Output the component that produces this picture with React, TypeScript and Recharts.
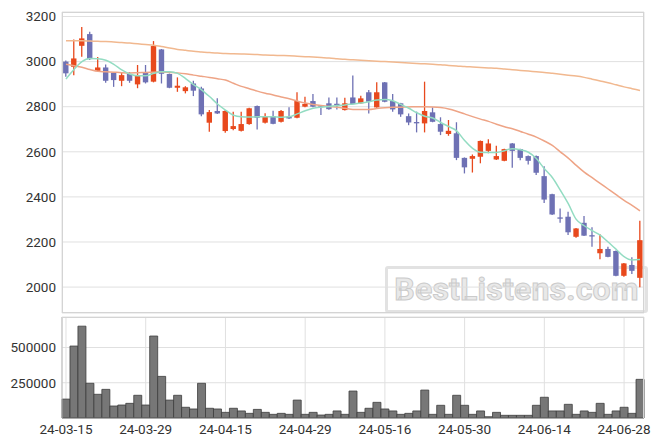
import { ComposedChart, Bar, Line, XAxis, YAxis, CartesianGrid } from 'recharts'

const dates = [
  '24-03-15', '24-03-18', '24-03-19', '24-03-20', '24-03-21', '24-03-22', '24-03-25', '24-03-26', '24-03-27', '24-03-28',
  '24-03-29', '24-04-01', '24-04-02', '24-04-03', '24-04-04', '24-04-05', '24-04-08', '24-04-09', '24-04-11', '24-04-12',
  '24-04-15', '24-04-16', '24-04-17', '24-04-18', '24-04-19', '24-04-22', '24-04-23', '24-04-24', '24-04-25', '24-04-26',
  '24-04-29', '24-04-30', '24-05-02', '24-05-03', '24-05-07', '24-05-08', '24-05-09', '24-05-10', '24-05-13', '24-05-14',
  '24-05-16', '24-05-17', '24-05-20', '24-05-21', '24-05-22', '24-05-23', '24-05-24', '24-05-27', '24-05-28', '24-05-29',
  '24-05-30', '24-05-31', '24-06-03', '24-06-04', '24-06-05', '24-06-07', '24-06-10', '24-06-11', '24-06-12', '24-06-13',
  '24-06-14', '24-06-17', '24-06-18', '24-06-19', '24-06-20', '24-06-21', '24-06-24', '24-06-25', '24-06-26', '24-06-27',
  '24-06-28', '24-07-01', '24-07-02',
]

const tickDates = ['24-03-15', '24-03-29', '24-04-15', '24-04-29', '24-05-16', '24-05-30', '24-06-14', '24-06-28']
const priceTicks = [2000, 2200, 2400, 2600, 2800, 3000, 3200]
const volumeTicks = [250000, 500000]

const opens = [
  3000, 2977, 3070, 3122, 2959, 2974, 2950, 2915, 2945, 2899,
  2952, 2911, 3054, 2945, 2884, 2869, 2903, 2881, 2729, 2781,
  2692, 2701, 2693, 2723, 2803, 2729, 2758, 2733, 2755, 2751,
  2800, 2825, 2806, 2815, 2813, 2785, 2841, 2815, 2864, 2797,
  2908, 2825, 2815, 2758, 2732, 2726, 2775, 2723, 2679, 2682,
  2573, 2569, 2578, 2604, 2566, 2560, 2637, 2612, 2581, 2581,
  2492, 2412, 2309, 2312, 2223, 2285, 2230, 2150, 2169, 2160,
  2050, 2098, 2041,
]
const highs = [
  3005, 3098, 3154, 3132, 3020, 2987, 2952, 2952, 2954, 2985,
  2985, 3091, 3056, 2947, 2930, 2891, 2915, 2888, 2785, 2837,
  2785, 2778, 2778, 2795, 2805, 2771, 2782, 2785, 2797, 2864,
  2844, 2856, 2808, 2841, 2841, 2840, 2938, 2849, 2874, 2908,
  2910, 2856, 2817, 2770, 2778, 2911, 2797, 2753, 2741, 2731,
  2575, 2588, 2650, 2656, 2627, 2614, 2639, 2614, 2583, 2583,
  2536, 2414, 2349, 2334, 2262, 2315, 2265, 2234, 2179, 2162,
  2107, 2132, 2294,
]
const lows = [
  2933, 2940, 3021, 3007, 2955, 2906, 2888, 2891, 2906, 2882,
  2903, 2908, 2903, 2882, 2866, 2859, 2847, 2758, 2689, 2768,
  2684, 2696, 2690, 2720, 2699, 2726, 2722, 2730, 2745, 2749,
  2798, 2798, 2763, 2787, 2788, 2783, 2810, 2813, 2770, 2795,
  2820, 2778, 2755, 2718, 2686, 2686, 2731, 2674, 2671, 2563,
  2504, 2508, 2549, 2593, 2564, 2558, 2529, 2563, 2544, 2497,
  2373, 2320, 2285, 2231, 2219, 2226, 2179, 2123, 2132, 2048,
  2046, 2058, 1999,
]
const closes = [
  2948, 3014, 3103, 3011, 2974, 2915, 2918, 2940, 2915, 2940,
  2908, 3069, 2946, 2884, 2893, 2886, 2871, 2766, 2776, 2770,
  2781, 2714, 2723, 2793, 2751, 2758, 2724, 2781, 2748, 2825,
  2812, 2800, 2803, 2789, 2810, 2815, 2812, 2837, 2822, 2864,
  2822, 2788, 2766, 2730, 2728, 2781, 2733, 2689, 2693, 2573,
  2531, 2581, 2648, 2637, 2581, 2612, 2604, 2573, 2560, 2507,
  2388, 2322, 2305, 2243, 2260, 2228, 2226, 2169, 2134, 2050,
  2105, 2072, 2208,
]
const volumes = [
  134000, 510000, 651000, 246000, 168000, 203000, 85000, 92000, 104000, 161000,
  92000, 581000, 295000, 127000, 161000, 76000, 64000, 246000, 69000, 64000,
  40000, 69000, 50000, 33000, 61000, 40000, 26000, 33000, 26000, 127000,
  26000, 40000, 21000, 26000, 50000, 26000, 191000, 40000, 69000, 111000,
  64000, 50000, 26000, 33000, 50000, 198000, 26000, 90000, 26000, 161000,
  90000, 26000, 50000, 9000, 40000, 19000, 19000, 19000, 19000, 90000,
  147000, 50000, 50000, 97000, 26000, 50000, 40000, 104000, 26000, 50000,
  76000, 33000, 274000,
]
const ma5 = [
  2923, 2965, 3000, 3014, 3013, 3006, 2988, 2963, 2945, 2937,
  2937, 2948, 2955, 2955, 2948, 2925, 2898, 2875, 2845, 2812,
  2785, 2762, 2755, 2754, 2755, 2755, 2755, 2753, 2755, 2768,
  2782, 2793, 2798, 2801, 2805, 2808, 2812, 2816, 2822, 2830,
  2832, 2826, 2810, 2793, 2773, 2758, 2750, 2730, 2712, 2693,
  2650, 2615, 2598, 2597, 2597, 2605, 2614, 2609, 2598, 2570,
  2525, 2486, 2430, 2370, 2300, 2272, 2250, 2230, 2200, 2168,
  2135, 2120, 2122,
]
const ma20 = [
  2988, 2982, 2975, 2965, 2957, 2955, 2953, 2951, 2950, 2951,
  2952, 2953, 2954, 2952, 2950, 2946, 2940, 2935, 2930, 2924,
  2918, 2904, 2890, 2880, 2869, 2860, 2852, 2843, 2835, 2825,
  2816, 2810, 2805, 2801, 2798, 2793, 2788, 2788, 2788, 2792,
  2795, 2797, 2798, 2799, 2800, 2800, 2799, 2796, 2790, 2780,
  2768, 2756, 2745, 2735, 2722, 2711, 2702, 2690, 2678, 2665,
  2648, 2628, 2600, 2572, 2540, 2510, 2485, 2460, 2435, 2410,
  2385, 2362, 2338,
]
const ma60 = [
  3092, 3092, 3092, 3091, 3090, 3089, 3087, 3085, 3082, 3079,
  3076, 3073, 3067, 3060, 3054, 3050, 3046, 3043, 3040, 3038,
  3036, 3035, 3034, 3033, 3031, 3029, 3028, 3027, 3026, 3024,
  3022, 3020, 3018, 3016, 3013, 3010, 3008, 3006, 3004, 3002,
  3000, 2998, 2996, 2994, 2992, 2990, 2988, 2986, 2983, 2981,
  2978, 2976, 2974, 2972, 2970, 2967, 2964, 2961, 2958, 2955,
  2952, 2948, 2944, 2940, 2936, 2930, 2922, 2914, 2906, 2897,
  2888, 2880, 2872,
]

const UP = '#e8491d'
const DOWN = '#6e71b4'
const GRID = '#e0e0e0'
const TEXT = '#333'
const FONT = 'Roboto, sans-serif'

const rows = dates.map((d, i) => ({
  date: d,
  open: opens[i], high: highs[i], low: lows[i], close: closes[i],
  range: [lows[i], highs[i]],
  volume: volumes[i],
  ma5: ma5[i], ma20: ma20[i], ma60: ma60[i],
}))

const Candle = (props: any) => {
  const { x, y, width, height, payload } = props
  if (x == null || y == null) return null
  const top = Math.min(y, y + height)
  const h = Math.abs(height)
  const { open, close, high, low } = payload
  const color = close >= open ? UP : DOWN
  const span = high - low || 1
  const py = (v: number) => top + ((high - v) / span) * h
  const cx = x + width / 2
  const bTop = py(Math.max(open, close))
  const bBot = py(Math.min(open, close))
  const bw = 5.4
  return (
    <g>
      <line x1={cx} x2={cx} y1={top} y2={top + h} stroke={color} strokeWidth={1.3} />
      <rect x={cx - bw / 2} y={bTop} width={bw} height={Math.max(bBot - bTop, 1.3)} fill={color} />
    </g>
  )
}

const tickStyle = { fill: TEXT, fontSize: 13.5, fontFamily: FONT }

export default function App() {
  return (
    <div style={{ position: 'absolute', left: 0, top: 0, width: 663, height: 447, background: '#fff' }}>
      {/* watermark sits behind the chart */}
      <div style={{
        position: 'absolute', left: 385, top: 266, width: 257, height: 41,
        border: '3px solid #e2e2e2', borderRadius: 3,
        fontFamily: FONT, fontWeight: 700, fontSize: 32, lineHeight: '41px',
        color: '#e9e9e9', WebkitTextStroke: '1px #cbcbcb', textAlign: 'center',
        letterSpacing: 0.2,
      }}>BestListens.com</div>

      <div style={{ position: 'relative' }}>
        <ComposedChart width={663} height={315} data={rows} margin={{ top: 12, right: 19, bottom: 2, left: 0 }}>
          <CartesianGrid stroke={GRID} />
          <XAxis dataKey="date" ticks={tickDates} tick={false} axisLine={false} tickLine={false} height={0} />
          <YAxis
            domain={[1885, 3220]} ticks={priceTicks} allowDataOverflow
            width={62} axisLine={false} tickLine={false} tickSize={6} tickMargin={0}
            tick={tickStyle}
          />
          <Bar dataKey="range" shape={<Candle />} isAnimationActive={false} />
          <Line type="monotone" dataKey="ma60" stroke="#f1b88f" strokeWidth={1.5} dot={false} isAnimationActive={false} />
          <Line type="monotone" dataKey="ma20" stroke="#eea486" strokeWidth={1.5} dot={false} isAnimationActive={false} />
          <Line type="monotone" dataKey="ma5" stroke="#93dcc2" strokeWidth={1.5} dot={false} isAnimationActive={false} />
        </ComposedChart>
        <div style={{ position: 'absolute', left: 62, top: 12, width: 582, height: 301, border: '1px solid #d4d4d4', boxSizing: 'border-box', pointerEvents: 'none' }} />
      </div>

      <div style={{ position: 'relative' }}>
        <ComposedChart width={663} height={132} data={rows} barCategoryGap={0} margin={{ top: 2, right: 19, bottom: 0, left: 0 }}>
          <CartesianGrid stroke={GRID} />
          <XAxis
            dataKey="date" ticks={tickDates} height={29}
            axisLine={{ stroke: '#666' }} tickLine={false} tickSize={6} tickMargin={0}
            tick={tickStyle}
          />
          <YAxis
            domain={[0, 716000]} ticks={volumeTicks} allowDataOverflow
            width={62} axisLine={{ stroke: '#bbb' }} tickLine={false} tickSize={6} tickMargin={0}
            tick={tickStyle}
          />
          <Bar dataKey="volume" fill="#777" stroke="#3c3c3c" strokeWidth={0.8} isAnimationActive={false} />
        </ComposedChart>
        <div style={{ position: 'absolute', left: 62, top: 2, width: 582, height: 101, borderTop: '1px solid #d4d4d4', borderRight: '1px solid #d4d4d4', boxSizing: 'border-box', pointerEvents: 'none' }} />
      </div>
    </div>
  )
}
